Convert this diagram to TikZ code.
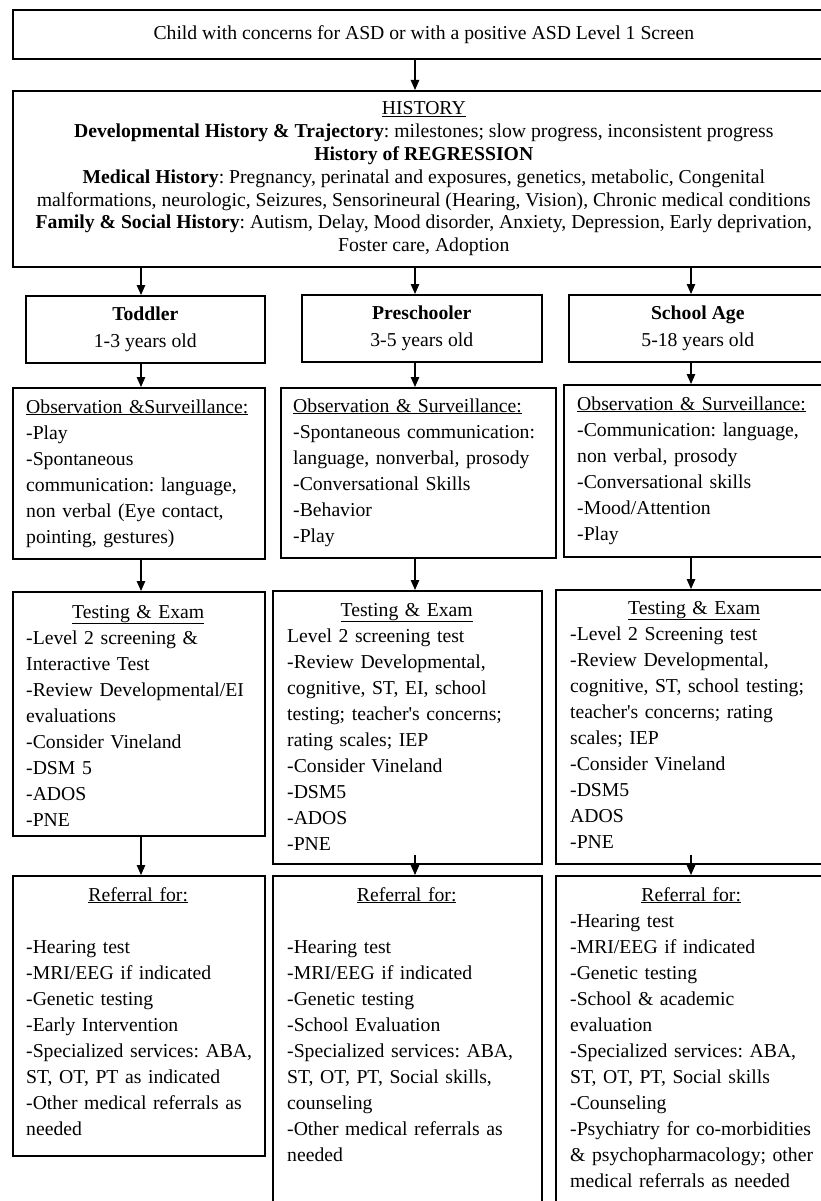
\documentclass[tikz,border=0pt]{standalone}
\usepackage{fontspec}
\setmainfont{Liberation Serif}
\usetikzlibrary{arrows.meta,positioning,calc}
\frenchspacing
\newcommand{\headline}[2]{\makebox[#1][c]{\underline{#2}}}
\tikzset{
stagebox/.style={
draw,
line width=1.6pt,
inner sep=0pt,
anchor=north west,
align=center,
font=\fontsize{19.7}{22.8}\selectfont
},
agebox/.style={
stagebox,
font=\fontsize{19.7}{27}\selectfont
},
listtext/.style={
anchor=base west,
inner sep=0pt,
align=left,
text width=300pt,
font=\fontsize{19.7}{26}\selectfont
},
arrow/.style={
-{Triangle[length=10pt,width=8.5pt]},
line width=1.1pt
}
}

\begin{document}
\begin{tikzpicture}[x=1pt,y=-1pt]
\useasboundingbox (0,0) rectangle (821,1201);
\coordinate (colA) at (141,0);
\coordinate (colB) at (415,0);
\coordinate (colC) at (691,0);

\node[stagebox,minimum width=822pt,minimum height=49pt](top) at (12,9){Child with concerns for ASD or with a positive ASD Level 1 Screen};
\node[stagebox,minimum width=822pt,minimum height=176pt](hist) at (12,90){\underline{HISTORY}\\
\textbf{Developmental History \& Trajectory}: milestones; slow progress, inconsistent progress\\
\textbf{History of REGRESSION}\\
\textbf{Medical History}: Pregnancy, perinatal and exposures, genetics, metabolic, Congenital\\
malformations, neurologic, Seizures, Sensorineural (Hearing, Vision), Chronic medical conditions\\
\textbf{Family \& Social History}: Autism, Delay, Mood disorder, Anxiety, Depression, Early deprivation,\\
Foster care, Adoption};

\node[agebox,minimum width=239pt,minimum height=67pt](tchild) at (25,295){\textbf{Toddler}\\1-3 years old};
\node[agebox,minimum width=240pt,minimum height=67pt](pchild) at (301,294){\textbf{Preschooler}\\3-5 years old};
\node[agebox,minimum width=258pt,minimum height=67pt](schild) at (568,294){\textbf{School Age}\\5-18 years old};

\node[stagebox,minimum width=252pt,minimum height=171pt](tobs) at (12,387){};
\node[stagebox,minimum width=275pt,minimum height=170pt](pobs) at (280,387){};
\node[stagebox,minimum width=271pt,minimum height=172pt](sobs) at (563,384){};

\node[stagebox,minimum width=252pt,minimum height=244pt](ttest) at (12,591){};
\node[stagebox,minimum width=269pt,minimum height=273pt](ptest) at (272,590){};
\node[stagebox,minimum width=278pt,minimum height=274pt](stest) at (555,589){};

\node[stagebox,minimum width=252pt,minimum height=280pt](tref) at (12,875){};
\node[stagebox,minimum width=269pt,minimum height=345pt](pref) at (272,875){};
\node[stagebox,minimum width=278pt,minimum height=345pt](sref) at (555,875){};

\node[listtext](tobstext) at (26,413){\underline{Observation \&Surveillance:}\\-Play\\-Spontaneous\\communication: language,\\non verbal (Eye contact,\\pointing, gestures)};
\node[listtext](pobstext) at (293,412){\underline{Observation \& Surveillance:}\\-Spontaneous communication:\\language, nonverbal, prosody\\-Conversational Skills\\-Behavior\\-Play};
\node[listtext](sobstext) at (577,410){\underline{Observation \& Surveillance:}\\-Communication: language,\\non verbal, prosody\\-Conversational skills\\-Mood/Attention\\-Play};

\node[listtext](ttesttext) at (26,618){\headline{224pt}{Testing \& Exam}\\-Level 2 screening \&\\Interactive Test\\-Review Developmental/EI\\evaluations\\-Consider Vineland\\-DSM 5\\-ADOS\\-PNE};
\node[listtext](ptesttext) at (287,616){\headline{239pt}{Testing \& Exam}\\Level 2 screening test\\-Review Developmental,\\cognitive, ST, EI, school\\testing; teacher\textquotesingle s concerns;\\rating scales; IEP\\-Consider Vineland\\-DSM5\\-ADOS\\-PNE};
\node[listtext](stesttext) at (570,614){\headline{248pt}{Testing \& Exam}\\-Level 2 Screening test\\-Review Developmental,\\cognitive, ST, school testing;\\teacher\textquotesingle s concerns; rating\\scales; IEP\\-Consider Vineland\\-DSM5\\ADOS\\-PNE};

\node[listtext](treftext) at (26,901){\headline{224pt}{Referral for:}\\\mbox{}\\-Hearing test\\-MRI/EEG if indicated\\-Genetic testing\\-Early Intervention\\-Specialized services: ABA,\\ST, OT, PT as indicated\\-Other medical referrals as\\needed};
\node[listtext](preftext) at (287,901){\headline{239pt}{Referral for:}\\\mbox{}\\-Hearing test\\-MRI/EEG if indicated\\-Genetic testing\\-School Evaluation\\-Specialized services: ABA,\\ST, OT, PT, Social skills,\\counseling\\-Other medical referrals as\\needed};
\node[listtext](sreftext) at (570,901){\headline{242pt}{Referral for:}\\-Hearing test\\-MRI/EEG if indicated\\-Genetic testing\\-School \& academic\\evaluation\\-Specialized services: ABA,\\ST, OT, PT, Social skills\\-Counseling\\-Psychiatry for co-morbidities\\\& psychopharmacology; other\\medical referrals as needed};

\draw[arrow](top.south -| colB)--(hist.north -| colB);
\draw[arrow](hist.south -| colA)--(tchild.north -| colA);
\draw[arrow](hist.south -| colB)--(pchild.north -| colB);
\draw[arrow](hist.south -| colC)--(schild.north -| colC);
\draw[arrow](tchild.south -| colA)--(tobs.north -| colA);
\draw[arrow](pchild.south -| colB)--(pobs.north -| colB);
\draw[arrow](schild.south -| colC)--(sobs.north -| colC);
\draw[arrow](tobs.south -| colA)--(ttest.north -| colA);
\draw[arrow](pobs.south -| colB)--(ptest.north -| colB);
\draw[arrow](sobs.south -| colC)--(stest.north -| colC);
\draw[arrow](ttest.south -| colA)--(tref.north -| colA);
\draw[arrow]($(ptest.south -| colB)+(0,-10)$)--(pref.north -| colB);
\draw[arrow]($(stest.south -| colC)+(0,-10)$)--(sref.north -| colC);
\end{tikzpicture}
\end{document}
